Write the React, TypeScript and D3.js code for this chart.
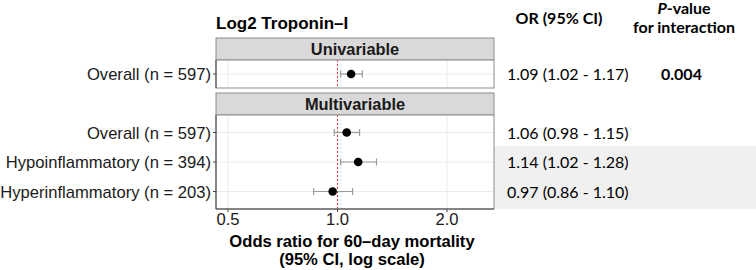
import React from "react";
import * as d3 from "d3";

const groups = ["Univariable", "Multivariable"];
const rowLabels = [
  ["Overall (n = 597)"],
  ["Overall (n = 597)", "Hypoinflammatory (n = 394)", "Hyperinflammatory (n = 203)"],
];
const orValues = [[1.09], [1.06, 1.14, 0.97]];
const lowerCI = [[1.02], [0.98, 1.02, 0.86]];
const upperCI = [[1.17], [1.15, 1.28, 1.1]];
const orText = [
  ["1.09 (1.02 - 1.17)"],
  ["1.06 (0.98 - 1.15)", "1.14 (1.02 - 1.28)", "0.97 (0.86 - 1.10)"],
];
const pValues = ["0.004"];
const xTicks = [0.5, 1.0, 2.0];

const W = 756;
const H = 270;
const panelLeft = 216;
const panelRight = 494;
const stripH = 22;
const panels = [
  { top: 38, bottom: 88 },
  { top: 93, bottom: 209 },
];
const rowStep = 29.5;
const plotFont = "'Liberation Sans', Arial, sans-serif";
const tableFont = "Lato, 'Open Sans', sans-serif";
const fs = 16.6;

export default function App() {
  const x = d3.scaleLog().base(2).domain([0.5, 2]).range([228, 447]);
  const rowY = (g: number, i: number) => {
    const p = panels[g];
    const top = p.top + stripH;
    const n = rowLabels[g].length;
    const bodyH = p.bottom - top;
    const pad = (bodyH - (n - 1) * rowStep) / 2;
    return top + pad + i * rowStep;
  };

  return (
    <svg
      width={W}
      height={H}
      style={{ position: "absolute", left: 0, top: 0, background: "#fff" }}
      fontFamily={plotFont}
    >
      <rect x={panelRight} y={146} width={W - panelRight} height={63} fill="#f0f0f0" />

      <text x={panelLeft} y={29} fontSize={17} fontWeight="bold" fill="#000">
        Log2 Troponin–I
      </text>

      {groups.map((g, gi) => {
        const p = panels[gi];
        const bodyTop = p.top + stripH;
        return (
          <g key={g}>
            <rect
              x={panelLeft}
              y={p.top}
              width={panelRight - panelLeft}
              height={stripH}
              fill="#d9d9d9"
              stroke="#8c8c8c"
              strokeWidth={1}
            />
            <text
              x={(panelLeft + panelRight) / 2}
              y={p.top + stripH / 2 + 6}
              textAnchor="middle"
              fontSize={16.4}
              fontWeight="bold"
              fill="#1a1a1a"
            >
              {g}
            </text>
            <rect x={panelLeft} y={bodyTop} width={panelRight - panelLeft} height={p.bottom - bodyTop} fill="#fff" />
            {xTicks.map((t) => (
              <line key={t} x1={x(t)} x2={x(t)} y1={bodyTop} y2={p.bottom} stroke="#ebebeb" strokeWidth={1} />
            ))}
            {rowLabels[gi].map((_, i) => (
              <line
                key={i}
                x1={panelLeft}
                x2={panelRight}
                y1={rowY(gi, i)}
                y2={rowY(gi, i)}
                stroke="#ebebeb"
                strokeWidth={1}
              />
            ))}
            <line x1={x(1)} x2={x(1)} y1={bodyTop} y2={p.bottom} stroke="#e8413a" strokeWidth={1} strokeDasharray="2,2" />
            {orValues[gi].map((v, i) => {
              const y = rowY(gi, i);
              const lo = x(lowerCI[gi][i]);
              const hi = x(upperCI[gi][i]);
              return (
                <g key={i}>
                  <line x1={lo} x2={hi} y1={y} y2={y} stroke="#9a9a9a" strokeWidth={1.2} />
                  <line x1={lo} x2={lo} y1={y - 3.5} y2={y + 3.5} stroke="#9a9a9a" strokeWidth={1.2} />
                  <line x1={hi} x2={hi} y1={y - 3.5} y2={y + 3.5} stroke="#9a9a9a" strokeWidth={1.2} />
                  <circle cx={x(v)} cy={y} r={4.3} fill="#000" />
                </g>
              );
            })}
            <rect
              x={panelLeft}
              y={bodyTop}
              width={panelRight - panelLeft}
              height={p.bottom - bodyTop}
              fill="none"
              stroke="#8c8c8c"
              strokeWidth={1}
            />
            <line x1={panelLeft} x2={panelLeft} y1={bodyTop} y2={p.bottom} stroke="#444" strokeWidth={1} />
            {rowLabels[gi].map((lab, i) => (
              <g key={lab + i}>
                <line x1={panelLeft - 3} x2={panelLeft} y1={rowY(gi, i)} y2={rowY(gi, i)} stroke="#444" />
                <text x={panelLeft - 5} y={rowY(gi, i) + 6} textAnchor="end" fontSize={fs} fill="#1a1a1a">
                  {lab}
                </text>
              </g>
            ))}
            {orText[gi].map((t, i) => (
              <text key={t} x={507} y={rowY(gi, i) + 6} fontSize={16} fontFamily={tableFont} fill="#000">
                {t}
              </text>
            ))}
            {gi === 0 && (
              <text x={661} y={rowY(0, 0) + 6} fontSize={16} fontWeight="bold" fontFamily={tableFont} fill="#000">
                {pValues[0]}
              </text>
            )}
          </g>
        );
      })}

      <line x1={panelLeft} x2={panelRight} y1={panels[1].bottom} y2={panels[1].bottom} stroke="#444" />
      {xTicks.map((t) => (
        <g key={t}>
          <line x1={x(t)} x2={x(t)} y1={panels[1].bottom} y2={panels[1].bottom + 3} stroke="#444" />
          <text x={x(t)} y={225} textAnchor="middle" fontSize={fs} fill="#1a1a1a">
            {t.toFixed(1)}
          </text>
        </g>
      ))}
      <text x={352} y={247} textAnchor="middle" fontSize={fs} fontWeight="bold" fill="#000">
        Odds ratio for 60–day mortality
      </text>
      <text x={352} y={265} textAnchor="middle" fontSize={fs} fontWeight="bold" fill="#000">
        (95% CI, log scale)
      </text>

      <text x={559} y={24} textAnchor="middle" fontSize={16} fontWeight="bold" fontFamily={tableFont} fill="#000">
        OR (95% CI)
      </text>
      <text x={684} y={14} textAnchor="middle" fontSize={16} fontWeight="bold" fontFamily={tableFont} fill="#000">
        <tspan fontStyle="italic">P</tspan>-value
      </text>
      <text x={684} y={33} textAnchor="middle" fontSize={16} fontWeight="bold" fontFamily={tableFont} fill="#000">
        for interaction
      </text>
    </svg>
  );
}
